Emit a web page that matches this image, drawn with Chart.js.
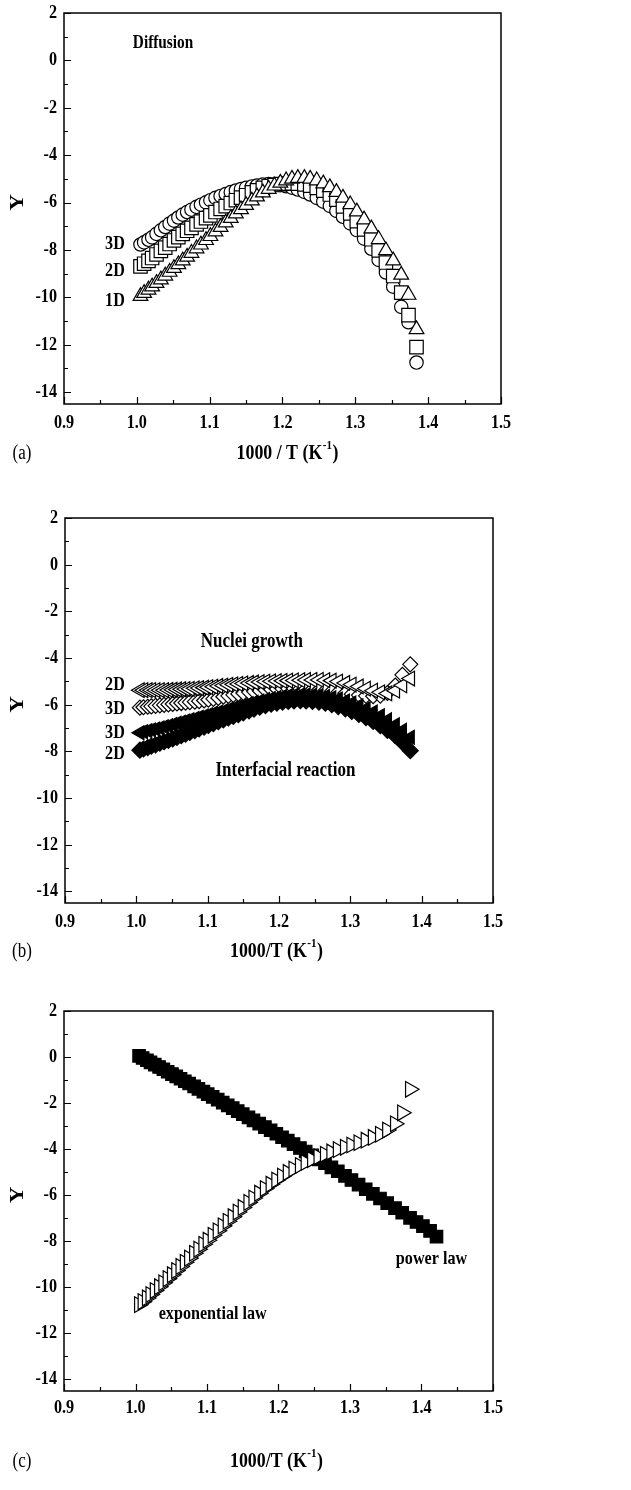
<!DOCTYPE html>
<html>
<head>
<meta charset="utf-8">
<script src="https://cdn.jsdelivr.net/npm/chart.js@4.4.1/dist/chart.umd.min.js"></script>
<style>
    html, body { margin: 0; padding: 0; background: #fff; }
    #page { position: relative; width: 631px; height: 1490px; }
    canvas { position: absolute; left: 0; }
</style>
</head>
<body>
<div id="page">
    <canvas id="chart-a" width="631" height="480" style="top:0px"></canvas>
    <canvas id="chart-b" width="631" height="490" style="top:480px"></canvas>
    <canvas id="chart-c" width="631" height="520" style="top:970px"></canvas>
</div>
<script>
// axis ticks
const xTicks = [0.9, 1.0, 1.1, 1.2, 1.3, 1.4, 1.5];
const xMinor = [0.95, 1.05, 1.15, 1.25, 1.35, 1.45];
const yTicks = [-14, -12, -10, -8, -6, -4, -2, 0, 2];
const yMinor = [-13, -11, -9, -7, -5, -3, -1, 1];

// 1000/T values shared by most series
const invT = [1.005, 1.010, 1.016, 1.021, 1.027, 1.033, 1.039, 1.045, 1.051, 1.057,
    1.063, 1.069, 1.075, 1.082, 1.088, 1.095, 1.101, 1.108, 1.115, 1.122,
    1.129, 1.136, 1.143, 1.150, 1.158, 1.165, 1.173, 1.181, 1.189, 1.197,
    1.205, 1.213, 1.221, 1.230, 1.238, 1.247, 1.256, 1.265, 1.274, 1.283,
    1.293, 1.302, 1.312, 1.322, 1.332, 1.342, 1.352, 1.363, 1.373, 1.384];

// power law runs a bit further
const invTPower = [1.005, 1.010, 1.016, 1.021, 1.027, 1.033, 1.039, 1.045, 1.051, 1.057,
    1.063, 1.069, 1.075, 1.082, 1.088, 1.095, 1.101, 1.108, 1.115, 1.122,
    1.129, 1.136, 1.143, 1.150, 1.158, 1.165, 1.173, 1.181, 1.189, 1.197,
    1.205, 1.213, 1.221, 1.230, 1.238, 1.247, 1.256, 1.265, 1.274, 1.283,
    1.293, 1.302, 1.312, 1.322, 1.332, 1.342, 1.352, 1.363, 1.373, 1.384,
    1.393, 1.402, 1.412, 1.421];

// (a) diffusion
const diff3D = [-7.77, -7.68, -7.57, -7.47, -7.32, -7.17, -7.03, -6.89, -6.76, -6.63,
    -6.51, -6.40, -6.30, -6.18, -6.09, -5.99, -5.90, -5.80, -5.72, -5.64,
    -5.56, -5.49, -5.43, -5.38, -5.32, -5.28, -5.24, -5.22, -5.23, -5.26,
    -5.31, -5.37, -5.45, -5.55, -5.66, -5.80, -5.96, -6.14, -6.35, -6.60,
    -6.88, -7.16, -7.52, -7.95, -8.42, -8.95, -9.55, -10.40, -11.05, -12.75];
const diff2D = [-8.69, -8.58, -8.46, -8.34, -8.19, -8.04, -7.90, -7.75, -7.60, -7.46,
    -7.32, -7.19, -7.07, -6.92, -6.80, -6.66, -6.54, -6.40, -6.27, -6.15,
    -6.02, -5.90, -5.79, -5.69, -5.57, -5.48, -5.38, -5.31, -5.26, -5.22,
    -5.20, -5.19, -5.20, -5.23, -5.29, -5.38, -5.50, -5.66, -5.88, -6.16,
    -6.46, -6.78, -7.13, -7.55, -8.02, -8.53, -9.10, -9.80, -10.75, -12.10];
const diff1D = [-9.95, -9.82, -9.68, -9.55, -9.40, -9.25, -9.09, -8.93, -8.77, -8.61,
    -8.45, -8.29, -8.13, -7.94, -7.78, -7.59, -7.42, -7.23, -7.04, -6.85,
    -6.66, -6.47, -6.29, -6.11, -5.92, -5.75, -5.58, -5.43, -5.29, -5.17,
    -5.07, -5.00, -4.97, -4.97, -5.00, -5.07, -5.20, -5.36, -5.56, -5.80,
    -6.08, -6.38, -6.72, -7.10, -7.55, -8.02, -8.45, -9.05, -9.90, -11.35];

// (b) nuclei growth (open) and interfacial reaction (filled)
const nuc2D = [-5.38, -5.38, -5.38, -5.38, -5.38, -5.38, -5.38, -5.37, -5.36, -5.35,
    -5.34, -5.33, -5.32, -5.30, -5.29, -5.27, -5.25, -5.23, -5.20, -5.18,
    -5.15, -5.13, -5.11, -5.09, -5.07, -5.05, -5.03, -5.01, -5.00, -4.99,
    -4.98, -4.97, -4.96, -4.95, -4.94, -4.94, -4.94, -4.95, -4.97, -5.01,
    -5.07, -5.14, -5.22, -5.31, -5.40, -5.47, -5.52, -5.40, -5.17, -4.88];
const nuc3D = [-6.13, -6.11, -6.09, -6.07, -6.05, -6.03, -6.01, -5.99, -5.97, -5.95,
    -5.93, -5.91, -5.89, -5.87, -5.85, -5.82, -5.79, -5.75, -5.71, -5.66,
    -5.62, -5.58, -5.54, -5.50, -5.46, -5.43, -5.40, -5.37, -5.35, -5.33,
    -5.32, -5.31, -5.31, -5.32, -5.33, -5.35, -5.37, -5.40, -5.43, -5.47,
    -5.51, -5.55, -5.59, -5.62, -5.64, -5.61, -5.50, -5.18, -4.72, -4.27];
const int3D = [-7.20, -7.16, -7.12, -7.08, -7.04, -7.00, -6.95, -6.90, -6.85, -6.80,
    -6.75, -6.70, -6.65, -6.59, -6.54, -6.48, -6.43, -6.37, -6.32, -6.27,
    -6.21, -6.15, -6.09, -6.03, -5.96, -5.90, -5.84, -5.78, -5.73, -5.69,
    -5.65, -5.62, -5.60, -5.58, -5.58, -5.59, -5.61, -5.65, -5.70, -5.76,
    -5.84, -5.93, -6.04, -6.17, -6.31, -6.47, -6.65, -6.86, -7.10, -7.40];
const int2D = [-7.95, -7.90, -7.84, -7.78, -7.72, -7.65, -7.59, -7.53, -7.47, -7.40,
    -7.33, -7.26, -7.19, -7.11, -7.04, -6.96, -6.89, -6.81, -6.73, -6.65,
    -6.57, -6.50, -6.43, -6.35, -6.27, -6.19, -6.11, -6.04, -5.98, -5.93,
    -5.89, -5.86, -5.84, -5.83, -5.84, -5.86, -5.89, -5.94, -6.00, -6.08,
    -6.18, -6.29, -6.42, -6.56, -6.72, -6.90, -7.10, -7.33, -7.62, -7.97];

// (c) power law and exponential law
const powerLaw = [0.05, -0.04, -0.14, -0.23, -0.33, -0.43, -0.53, -0.64, -0.74, -0.84,
    -0.94, -1.05, -1.15, -1.27, -1.38, -1.50, -1.61, -1.73, -1.85, -1.98,
    -2.10, -2.22, -2.35, -2.48, -2.62, -2.75, -2.89, -3.04, -3.18, -3.33,
    -3.48, -3.63, -3.78, -3.95, -4.10, -4.27, -4.44, -4.61, -4.79, -4.96,
    -5.16, -5.34, -5.54, -5.74, -5.94, -6.14, -6.34, -6.56, -6.76, -6.98,
    -7.16, -7.34, -7.55, -7.80];
const expLaw = [-10.75, -10.62, -10.46, -10.31, -10.14, -9.97, -9.80, -9.62, -9.45, -9.27,
    -9.09, -8.91, -8.73, -8.52, -8.34, -8.13, -7.95, -7.74, -7.54, -7.33,
    -7.13, -6.93, -6.73, -6.53, -6.31, -6.12, -5.91, -5.71, -5.52, -5.34,
    -5.17, -5.01, -4.86, -4.71, -4.58, -4.45, -4.33, -4.22, -4.12, -4.02,
    -3.92, -3.82, -3.72, -3.61, -3.49, -3.35, -3.17, -2.90, -2.42, -1.40];

const FONT = "'Liberation Serif', 'Times New Roman', serif";
const SQUEEZE = 0.85; // the figure's lettering is narrow

function pts(xs, ys) {
    return xs.map((x, i) => ({ x, y: ys[i] }));
}

function marker(data, style, radius, filled, order, rotation) {
    return {
        data,
        showLine: false,
        order,
        pointStyle: style,
        pointRadius: radius,
        pointRotation: rotation || 0,
        pointBorderWidth: 1.2,
        pointBorderColor: '#000',
        pointBackgroundColor: filled ? '#000' : '#fff',
    };
}

function narrowText(ctx, text, x, y, font, align) {
    ctx.save();
    ctx.font = font;
    ctx.textAlign = align;
    ctx.translate(x, y);
    ctx.scale(SQUEEZE, 1);
    ctx.fillText(text, 0, 0);
    ctx.restore();
}

// frame box + inward major/minor ticks
const frameTicks = {
    id: 'frameTicks',
    afterDatasetsDraw(chart) {
        const { ctx, chartArea: a, scales: { x, y } } = chart;
        ctx.save();
        ctx.strokeStyle = '#000';
        ctx.lineWidth = 1.5;
        ctx.strokeRect(a.left, a.top, a.right - a.left, a.bottom - a.top);
        ctx.lineWidth = 1.2;
        ctx.beginPath();
        const xt = (vals, len) => vals.forEach(v => {
            const px = Math.round(x.getPixelForValue(v)) + 0.5;
            ctx.moveTo(px, a.bottom);
            ctx.lineTo(px, a.bottom - len);
        });
        const yt = (vals, len) => vals.forEach(v => {
            const py = Math.round(y.getPixelForValue(v)) + 0.5;
            ctx.moveTo(a.left, py);
            ctx.lineTo(a.left + len, py);
        });
        xt(xTicks, 7);
        xt(xMinor, 4);
        yt(yTicks, 7);
        yt(yMinor, 4);
        ctx.stroke();
        ctx.restore();
    },
};

// tick labels, axis titles, panel letter, annotations
const panelText = {
    id: 'panelText',
    afterDraw(chart, args, o) {
        const { ctx, chartArea: a, scales: { x, y } } = chart;
        const tickFont = 'bold 19px ' + FONT;
        ctx.save();
        ctx.fillStyle = '#000';
        ctx.textBaseline = 'middle';

        xTicks.forEach(v => {
            narrowText(ctx, v.toFixed(1), x.getPixelForValue(v), a.bottom + o.labelGap, tickFont, 'center');
        });
        yTicks.forEach(v => {
            narrowText(ctx, String(v), a.left - 7, y.getPixelForValue(v), tickFont, 'right');
        });

        ctx.save();
        ctx.translate(18, (a.top + a.bottom) / 2 - 6);
        ctx.rotate(-Math.PI / 2);
        ctx.scale(1, SQUEEZE);
        ctx.textAlign = 'center';
        ctx.font = 'bold 23px ' + FONT;
        ctx.fillText('Y', 0, 0);
        ctx.restore();

        const big = 'bold 21px ' + FONT;
        const small = 'bold 13px ' + FONT;
        ctx.font = big;
        const w1 = ctx.measureText(o.xTitle).width * SQUEEZE;
        const w3 = ctx.measureText(')').width * SQUEEZE;
        ctx.font = small;
        const w2 = ctx.measureText('-1').width * SQUEEZE;
        const tx = o.titleX - (w1 + w2 + w3) / 2;
        narrowText(ctx, o.xTitle, tx, o.titleY, big, 'left');
        narrowText(ctx, '-1', tx + w1 + 0.5, o.titleY - 8, small, 'left');
        narrowText(ctx, ')', tx + w1 + w2 + 1, o.titleY, big, 'left');

        narrowText(ctx, o.letter, 22, o.titleY, '20px ' + FONT, 'center');

        o.notes.forEach(n => {
            narrowText(ctx, n.text, x.getPixelForValue(n.x), y.getPixelForValue(n.y),
                'bold ' + n.size + 'px ' + FONT, 'center');
        });
        ctx.restore();
    },
};

function makeChart(id, datasets, box, text) {
    return new Chart(document.getElementById(id), {
        type: 'scatter',
        data: { datasets },
        options: {
            responsive: false,
            animation: false,
            events: [],
            layout: { padding: { left: 0, right: box.right, top: box.top, bottom: 0 } },
            plugins: {
                legend: { display: false },
                tooltip: { enabled: false },
                panelText: text,
            },
            scales: {
                x: {
                    type: 'linear',
                    min: 0.9,
                    max: 1.5,
                    afterFit(s) { s.height = box.xHeight; },
                    grid: { display: false, drawTicks: false },
                    border: { display: false },
                    ticks: { display: false },
                },
                y: {
                    type: 'linear',
                    min: -14.5,
                    max: 2,
                    afterFit(s) { s.width = box.yWidth; },
                    grid: { display: false, drawTicks: false },
                    border: { display: false },
                    ticks: { display: false },
                },
            },
        },
        plugins: [frameTicks, panelText],
    });
}

makeChart('chart-a', [
    marker(pts(invT, diff1D), 'triangle', 8.5, false, 0),
    marker(pts(invT, diff2D), 'rect', 9.5, false, 1),
    marker(pts(invT, diff3D), 'circle', 6.7, false, 2),
], { top: 13, right: 130, yWidth: 64, xHeight: 76 }, {
    xTitle: '1000 / T (K',
    titleX: 287,
    titleY: 454,
    labelGap: 19,
    letter: '(a)',
    notes: [
        { text: 'Diffusion', x: 1.036, y: 0.74, size: 18 },
        { text: '3D', x: 0.970, y: -7.75, size: 19 },
        { text: '2D', x: 0.970, y: -8.88, size: 19 },
        { text: '1D', x: 0.970, y: -10.14, size: 19 },
    ],
});

makeChart('chart-b', [
    marker(pts(invT, nuc2D), 'triangle', 8.5, false, 0, -90),
    marker(pts(invT, int3D), 'triangle', 8, true, 1, -90),
    marker(pts(invT, int2D), 'rectRot', 8, true, 2),
    marker(pts(invT, nuc3D), 'rectRot', 7.5, false, 3),
], { top: 38, right: 138, yWidth: 65, xHeight: 67 }, {
    xTitle: '1000/T (K',
    titleX: 276,
    titleY: 472,
    labelGap: 19,
    letter: '(b)',
    notes: [
        { text: 'Nuclei growth', x: 1.162, y: -3.32, size: 20 },
        { text: 'Interfacial reaction', x: 1.209, y: -8.84, size: 20 },
        { text: '2D', x: 0.970, y: -5.18, size: 19 },
        { text: '3D', x: 0.970, y: -6.17, size: 19 },
        { text: '3D', x: 0.970, y: -7.20, size: 19 },
        { text: '2D', x: 0.970, y: -8.13, size: 19 },
    ],
});

makeChart('chart-c', [
    marker(pts(invT, expLaw), 'triangle', 9, false, 0, 90),
    marker(pts(invTPower, powerLaw), 'rect', 8.8, true, 1),
], { top: 41, right: 138, yWidth: 64, xHeight: 99 }, {
    xTitle: '1000/T (K',
    titleX: 276,
    titleY: 492,
    labelGap: 17,
    letter: '(c)',
    notes: [
        { text: 'power law', x: 1.414, y: -8.76, size: 19 },
        { text: 'exponential law', x: 1.108, y: -11.18, size: 19 },
    ],
});
</script>
</body>
</html>
